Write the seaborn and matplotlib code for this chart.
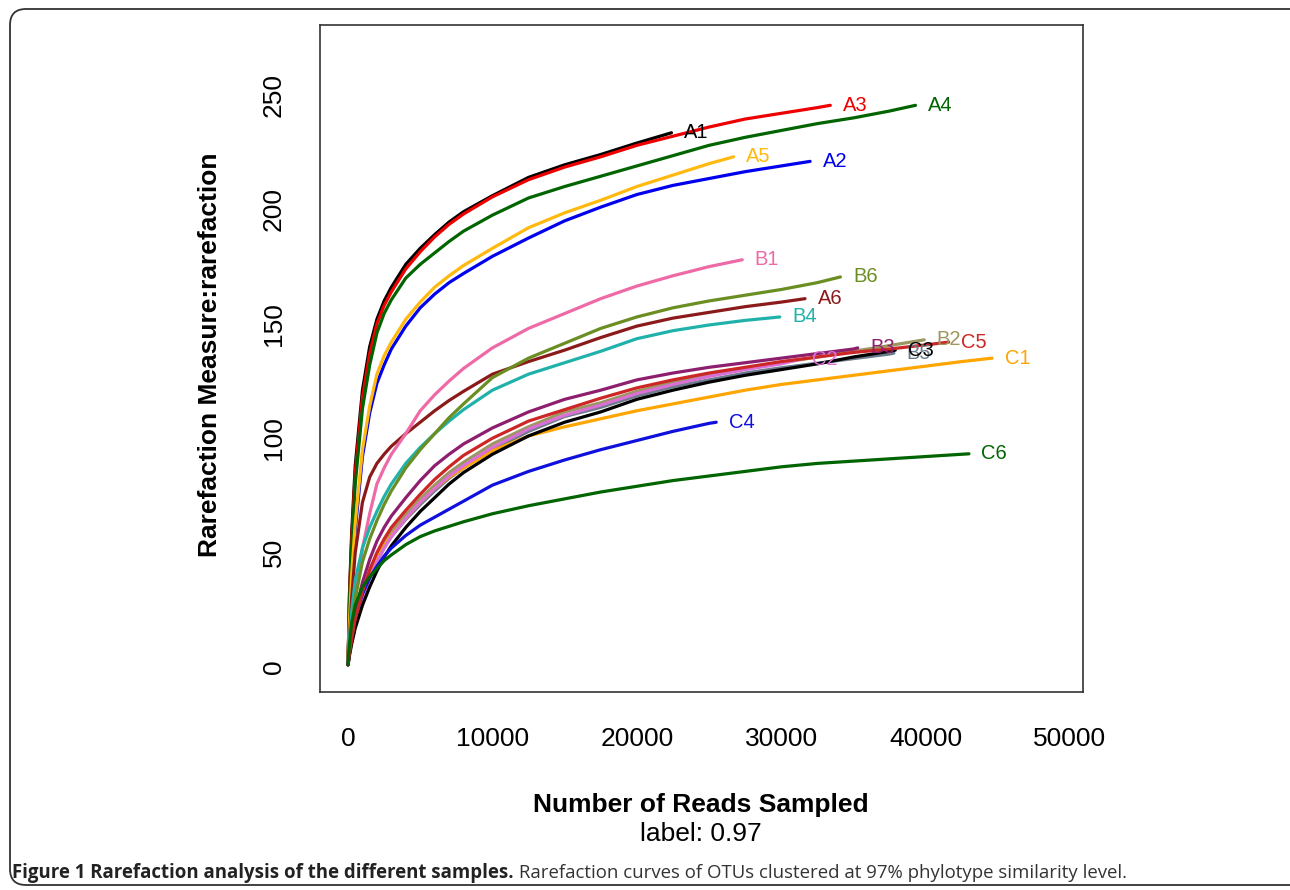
import matplotlib
matplotlib.use("Agg")
import matplotlib.pyplot as plt
import numpy as np
import pandas as pd
import seaborn as sns
from matplotlib.patches import FancyBboxPatch
from matplotlib.transforms import IdentityTransform

sns.set_theme(style="white")
plt.rcParams['font.family'] = ['Liberation Sans', 'DejaVu Sans']
plt.rcParams['text.color'] = 'black'
plt.rcParams['axes.labelcolor'] = 'black'
plt.rcParams['xtick.color'] = 'black'
plt.rcParams['ytick.color'] = 'black'

# ---------------- data ----------------
reads_grid = [0, 100, 250, 500, 1000, 1500, 2000, 2500, 3000, 4000, 5000, 6000,
              7000, 8000, 10000, 12500, 15000, 17500, 20000, 22500, 25000,
              27500, 30000, 32500, 35000, 37500, 40000, 42500]

samples = ["A1", "A2", "A3", "A4", "A5", "A6",
           "B1", "B2", "B3", "B4", "B5", "B6",
           "C1", "C2", "C3", "C4", "C5", "C6"]

end_reads = [22400, 32000, 33400, 39300, 26700, 31650,
             27300, 39900, 35300, 29900, 37800, 34100,
             44600, 31300, 37900, 25500, 41600, 43000]

colors = ["#000000", "#0000EE", "#EE0000", "#006400", "#FFB90F", "#8B1A1A",
          "#EE6AA7", "#9C9660", "#8E1E6E", "#20B2AA", "#6C7B8B", "#6B8E23",
          "#FFA500", "#DA70D6", "#000000", "#1010DD", "#CD2626", "#006400"]

A1 = [1, 32, 58, 88, 121, 140, 152, 160, 166, 176, 183, 189, 194.5, 199,
      206, 214, 219.5, 224, 229, 233.5]
A2 = [1, 18, 38, 60, 92, 111, 124, 132, 139, 149, 157, 163, 168, 172,
      179.5, 187.5, 195, 201, 206.5, 210.5, 213.5, 216.5, 219, 221]
A3 = [1, 30, 55, 85, 118, 137, 150, 158, 164, 174, 181.5, 188, 193.5, 198,
      205.5, 213, 218.5, 223, 228, 232, 236, 239.5, 242, 244.5, 245.5]
A4 = [1, 28, 52, 80, 113, 132, 146, 154.5, 160.5, 170, 176, 181, 186, 190.5,
      197.5, 205, 210, 214.5, 219, 223.5, 228, 231.5, 234.5, 237.5, 240, 243,
      245.5]
A5 = [1, 20, 40, 63, 95, 114, 128, 136, 142, 152, 159.5, 166, 171, 175.5,
      183, 192, 198.5, 204, 210, 215, 220, 223]
A6 = [1, 12, 30, 50, 72, 83, 89, 93, 96.5, 102, 107, 112, 116.5, 120.5,
      128, 133.5, 138.5, 144, 149, 152.5, 155, 157.5, 159.5, 161]
B1 = [1, 8, 17, 30, 52, 67, 80, 87, 93, 102, 112, 119, 125, 130.5,
      139.5, 148, 154.5, 161, 166.5, 171, 175, 178]
B2 = [1, 6, 12, 20, 31, 40, 48, 54, 59, 66.5, 73.5, 79.5, 85, 89.5,
      97.5, 105, 111.5, 115.5, 120.5, 124.5, 127.5, 130.5, 133, 135.5, 138,
      140.5, 143]
B3 = [1, 7, 14, 24, 37, 47, 55, 61, 66, 74, 81.5, 88, 93, 97.5,
      104.5, 111.5, 117, 121, 125.5, 128.5, 131, 133, 135, 137, 139, 139.5]
B4 = [1, 12, 24, 38, 52, 61, 68, 74.5, 80, 89, 96, 102, 107.5, 112.5,
      121, 128, 133, 138, 143.5, 147, 149.5, 151.5, 153]
B5 = [1, 6, 11, 19, 30, 39, 46, 52, 57, 64.5, 71, 77, 82.5, 87,
      95, 103, 109.5, 113.5, 118.5, 122.5, 125.5, 128.5, 130.8, 132.8, 134.8,
      136.8, 137.2]
B6 = [1, 9, 18, 30, 46, 56, 64, 71, 77, 87, 95, 102, 109, 115,
      126.5, 135, 141.5, 148, 153, 157, 160, 162.5, 165, 168, 170.5]
C1 = [1, 6, 12, 20, 31, 40, 47, 53, 57.5, 65, 72, 78, 83, 87,
      94.5, 101, 105, 108.5, 112, 115, 118, 121, 123.5, 125.5, 127.5, 129.5,
      131.5, 133.5, 135]
C2 = [1, 6, 11, 19, 30, 39, 46, 52, 57, 65, 72, 78, 83.5, 88,
      96, 104, 110, 114.5, 119.5, 123.5, 127, 130, 132.5, 134.5]
C3 = [1, 5, 10, 17, 27, 35, 42, 48, 53, 61, 68, 74, 80, 85,
      93, 101, 107, 111.5, 117, 121, 124.5, 127.5, 130, 132.5, 135.5, 138,
      138.5]
C4 = [1, 7, 14, 22, 32, 39, 44, 48.5, 52, 57.5, 62, 65.5, 69, 72.5,
      79.5, 85.5, 90.5, 95, 99, 103, 106.5, 107]
C5 = [1, 6, 12, 21, 33, 42.5, 50, 56, 61, 68.5, 75.5, 82, 87.5, 92.5,
      100, 107.5, 112.5, 117.5, 122, 125.5, 128.5, 131, 133.5, 135.5, 137.5,
      139, 140.8, 142]
C6 = [1, 10, 19, 27, 35, 39.5, 43, 46.5, 49, 53.5, 57, 59.5, 61.5, 63.5,
      67, 70.5, 73.5, 76.5, 79, 81.5, 83.5, 85.5, 87.5, 89, 90, 91, 92, 93,
      93.2]

x_ticks = [0, 10000, 20000, 30000, 40000, 50000]
y_ticks = [0, 50, 100, 150, 200, 250]

curves = [A1, A2, A3, A4, A5, A6, B1, B2, B3, B4, B5, B6,
          C1, C2, C3, C4, C5, C6]

# ---------------- long table for seaborn ----------------
rows = []
for name, ys, xe in zip(samples, curves, end_reads):
    xs = [g for g in reads_grid if g < xe] + [xe]
    assert len(xs) == len(ys), name
    for xv, yv in zip(xs, ys):
        rows.append({"sample": name, "reads": xv, "otus": yv})
df = pd.DataFrame(rows)

W, H = 1290, 890
fig = plt.figure(figsize=(W / 100, H / 100), dpi=100)
fig.patch.set_facecolor("white")

ax_l, ax_r, ax_t, ax_b = 320, 1083, 25, 692
ax = fig.add_axes([ax_l / W, (H - ax_b) / H, (ax_r - ax_l) / W, (ax_b - ax_t) / H])
ax.set_facecolor("white")

sns.lineplot(data=df, x="reads", y="otus", hue="sample", hue_order=samples,
             palette=dict(zip(samples, colors)), estimator=None, sort=False,
             linewidth=2.3, legend=False, ax=ax)
for ln in ax.get_lines():
    ln.set_solid_joinstyle("round")
    ln.set_solid_capstyle("round")

for name, ys, xe, c in zip(samples, curves, end_reads, colors):
    ax.annotate(name, xy=(xe, ys[-1]), xytext=(9, 0), textcoords="offset points",
                ha="left", va="center", color=c, fontsize=14.5)

ax.set_xlim(-1940, 50900)
ax.set_ylim(-10.9, 280.6)
ax.set_xticks(x_ticks)
ax.set_xticklabels([str(v) for v in x_ticks])
ax.set_yticks(y_ticks)
ax.set_yticklabels([str(v) for v in y_ticks], rotation=90, va="center")
ax.set_xlabel("")
ax.set_ylabel("")
for sp in ax.spines.values():
    sp.set_visible(True)
    sp.set_color("#333333")
    sp.set_linewidth(1.2)
ax.tick_params(axis="both", direction="out", length=11.5, width=1.1,
               color="#333333", labelsize=19, labelcolor="black")
ax.tick_params(axis="x", pad=14)
ax.tick_params(axis="y", pad=13)

fig.text(210 / W, 1 - 355 / H, "Rarefaction Measure:rarefaction", rotation=90,
         ha="center", va="center", fontsize=19, fontweight="bold", color="black")
fig.text(701 / W, 1 - 805 / H, "Number of Reads Sampled", ha="center",
         va="center", fontsize=19, fontweight="bold", color="black")
fig.text(701 / W, 1 - 834 / H, "label: 0.97", ha="center", va="center",
         fontsize=19, color="black")

# caption
cap_y = 1 - 873 / H
fs = 14
t1 = fig.text(12 / W, cap_y, "Figure 1 Rarefaction analysis of the different samples.",
              fontweight="bold", family=["Open Sans", "DejaVu Sans"], fontsize=fs,
              va="center", ha="left", color="#222222")
t2 = fig.text(0, cap_y, " Rarefaction curves of OTUs clustered at 97% phylotype similarity level.",
              family=["Open Sans", "DejaVu Sans"], fontsize=fs, va="center",
              ha="left", color="#333333")
renderer = fig.canvas.get_renderer()
b1 = t1.get_window_extent(renderer)
t2.set_x(b1.x1 / W)
b2 = t2.get_window_extent(renderer)
total = b2.x1 - b1.x0
fs2 = fs * (1121 / total)
t1.set_fontsize(fs2)
t2.set_fontsize(fs2)
b1 = t1.get_window_extent(renderer)
t2.set_x(b1.x1 / W)

# rounded frame
frame = FancyBboxPatch((10, 5), 1310, 876, boxstyle="round,pad=0,rounding_size=16",
                       transform=IdentityTransform(), fill=False,
                       edgecolor="#333333", linewidth=1.3)
fig.add_artist(frame)

fig.savefig("out.png", dpi=100, facecolor="white")
